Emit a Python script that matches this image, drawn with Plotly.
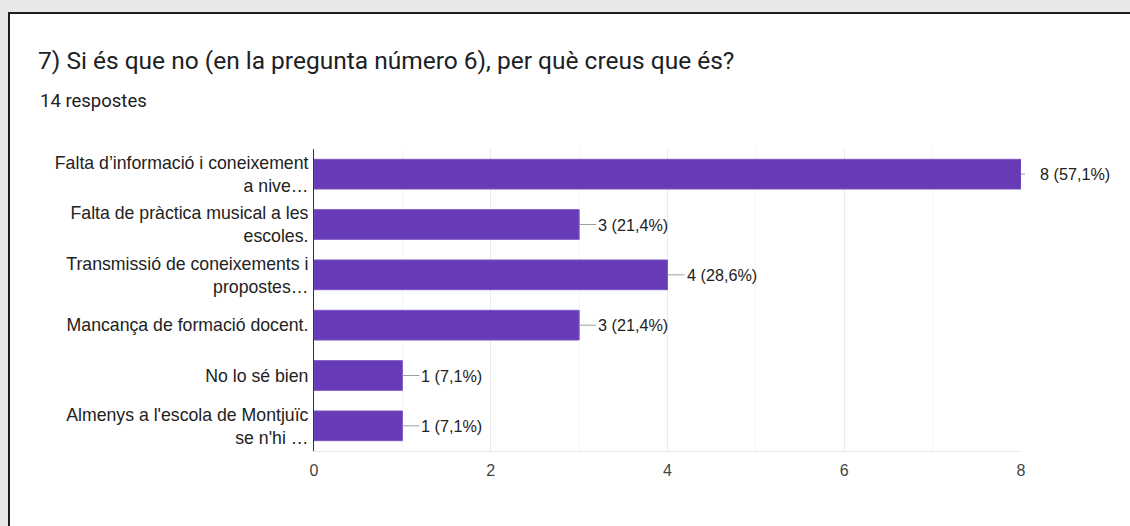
import plotly.graph_objects as go

# Survey answers (Google Forms summary)
categories = [
    "Falta d’informació i coneixement<br>a nive…",
    "Falta de pràctica musical a les<br>escoles.",
    "Transmissió de coneixements i<br>propostes…",
    "Mancança de formació docent.",
    "No lo sé bien",
    "Almenys a l'escola de Montjuïc<br>se n'hi …",
]
counts = [8, 3, 4, 3, 1, 1]
percents = ["57,1%", "21,4%", "28,6%", "21,4%", "7,1%", "7,1%"]
x_ticks = [0, 2, 4, 6, 8]

title_text = "7) Si és que no (en la pregunta número 6), per què creus que és?"
subtitle_text = "14 respostes"

W, H = 1130, 526
M_L, M_R, M_T, M_B = 314, 109, 149, 75
plot_w = W - M_L - M_R
plot_h = H - M_T - M_B


def px2x(px):
    return (px - M_L) / plot_w


def px2y(py):
    return (H - M_B - py) / plot_h


fig = go.Figure(go.Bar(
    x=counts,
    y=categories,
    orientation="h",
    marker=dict(color="#673AB7", line=dict(color="#7b55c2", width=1)),
    hoverinfo="skip",
))

# value labels with grey leader lines
for i, (c, cat, p) in enumerate(zip(counts, categories, percents)):
    fig.add_annotation(
        x=c, y=cat, text=f"{c} ({p})",
        showarrow=True, arrowhead=0, arrowwidth=1, arrowcolor="#9e9e9e",
        ax=17, ay=0, xanchor="left", yanchor="middle",
        startstandoff=0 if i else 13,
        font=dict(family="Liberation Sans, Arial", size=16.2, color="#222222"),
    )

# page background / card border
fig.add_shape(type="rect", xref="paper", yref="paper", layer="below",
              x0=px2x(9), x1=px2x(W + 20), y0=px2y(H + 20), y1=px2y(13),
              fillcolor="white", line=dict(color="#1e1e1e", width=2))

fig.add_annotation(
    xref="paper", yref="paper", x=px2x(38), y=px2y(101),
    xanchor="left", yanchor="middle", showarrow=False, text=subtitle_text,
    font=dict(family="Roboto", size=18.5, color="#202124"),
)

fig.update_layout(
    width=W, height=H,
    margin=dict(l=M_L, r=M_R, t=M_T, b=M_B),
    paper_bgcolor="#e8e8e8",
    plot_bgcolor="white",
    bargap=0.41,
    showlegend=False,
    title=dict(text=title_text, x=38 / W, xanchor="left",
               y=1 - 60 / H, yanchor="middle",
               font=dict(family="Roboto", size=24.5, color="#202124")),
    font=dict(family="Liberation Sans, Arial", size=17.7, color="#222222"),
)
fig.update_xaxes(
    range=[0, 8], tickvals=x_ticks, showgrid=True, gridcolor="#ebebeb",
    minor=dict(dtick=1, showgrid=True, gridcolor="#f4f4f4"),
    zeroline=False, showline=True, linecolor="#e6e6e6", linewidth=1,
    tickfont=dict(size=16, color="#444444"), ticks="",
    ticklabelstandoff=5,
)
fig.update_yaxes(
    autorange="reversed", showgrid=False, ticks="",
    showline=True, linecolor="#333333", linewidth=1,
    ticklabelstandoff=1,
    tickfont=dict(size=17.7, color="#222222"),
)

fig.write_html("out.html", config={"displayModeBar": False},
               post_script="document.body.style.margin='0';")
